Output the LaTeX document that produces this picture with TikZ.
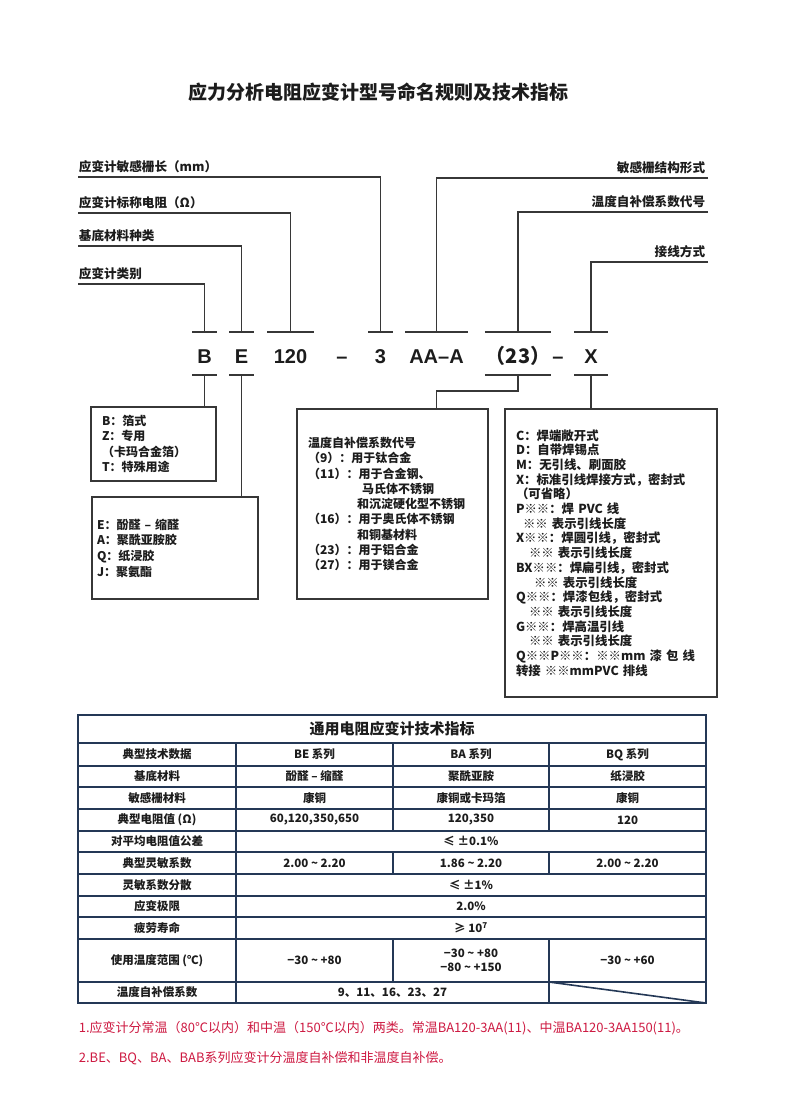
\documentclass[tikz,border=0pt]{standalone}
\usepackage{fontspec}
\setmainfont{Noto Sans CJK SC}
\newfontfamily\arialfont{Liberation Sans}
\usetikzlibrary{positioning}
\definecolor{linegray}{RGB}{55,55,55}
\definecolor{txt}{RGB}{28,28,28}
\definecolor{tabblue}{RGB}{36,56,86}
\definecolor{notered}{RGB}{205,25,65}

\begin{document}
\begin{tikzpicture}[x=1pt, y=-1pt, color=linegray, line width=1.8pt]
  \tikzstyle{lbl}=[inner sep=0pt, text=txt, font=\fontsize{12.6}{14}\selectfont\bfseries]
  \tikzstyle{code}=[inner sep=0pt, minimum height=41pt, text height=19pt, text depth=0pt, text=txt, font=\arialfont\fontsize{20}{22}\selectfont\bfseries]
  \tikzstyle{box}=[draw, rectangle, align=left, inner ysep=0pt, text=txt, font=\fontsize{12}{15.3}\selectfont\bfseries]
  \tikzstyle{tabline}=[draw=tabblue, line width=1.6pt]
  \tikzstyle{cell}=[inner sep=0pt, align=center, text=txt, font=\fontsize{11.5}{13.5}\selectfont\bfseries]
  \tikzstyle{note}=[inner sep=0pt, text=notered, font=\fontsize{13}{15}\selectfont]
  \useasboundingbox (0,0) rectangle (800,1101);

  \node[text=txt, font=\fontsize{19}{22}\selectfont\bfseries] (title) at (378,92) {应力分析电阻应变计型号命名规则及技术指标};

  % model code
  \node[code, minimum width=23pt] (cB) at (204.5,353.5) {B};
  \node[code, minimum width=23pt] (cE) at (241.5,353.5) {E};
  \node[code, minimum width=45pt] (cR) at (290.5,353.5) {120};
  \node[code] (cD1) at (342,353.5) {–};
  \node[code, minimum width=23pt] (c3) at (380.5,353.5) {3};
  \node[code, minimum width=61pt] (cAA) at (436.5,353.5) {AA–A};
  \node[code, minimum width=48pt, font=\fontsize{20}{22}\selectfont\bfseries] (c23) at (518,353.5) {（23）};
  \node[code] (cD2) at (558,353.5) {–};
  \node[code, minimum width=32pt] (cX) at (591,353.5) {X};
  \foreach \c in {cB,cE,cR,c3,cAA,c23,cX}
    \draw (\c.north west) -- (\c.north east);
  \foreach \c in {cB,cE,c23,cX}
    \draw (\c.south west) -- (\c.south east);

  % labels above
  \node[lbl, anchor=south west] (lenL) at (78,174) {应变计敏感栅长（mm）};
  \node[lbl, anchor=south west] (resL) at (78,210) {应变计标称电阻（Ω）};
  \node[lbl, anchor=south west] (subL) at (78,243) {基底材料种类};
  \node[lbl, anchor=south west] (typL) at (78,281) {应变计类别};
  \node[lbl, anchor=south east] (grdL) at (706,175) {敏感栅结构形式};
  \node[lbl, anchor=south east] (tcpL) at (706,209) {温度自补偿系数代号};
  \node[lbl, anchor=south east] (wirL) at (706,259) {接线方式};

  \draw ([yshift=-3pt]lenL.south west) -| (c3.north);
  \draw ([yshift=-3pt]resL.south west) -| (cR.north);
  \draw ([yshift=-3pt]subL.south west) -| (cE.north);
  \draw ([yshift=-3pt]typL.south west) -| (cB.north);
  \draw ([yshift=-3pt,xshift=2pt]grdL.south east) -| (cAA.north);
  \draw ([yshift=-3pt,xshift=2pt]tcpL.south east) -| (c23.north);
  \draw ([yshift=-3pt,xshift=2pt]wirL.south east) -| (cX.north);

  % explanation boxes
  \node[box, inner xsep=11pt, text width=103pt, minimum height=74pt] (bxB) at (153.5,444)
    {B：箔式\\Z：专用\\（卡玛合金箔）\\T：特殊用途};
  \node[box, inner xsep=5pt, text width=156pt, minimum height=102pt, font=\fontsize{12}{15.7}\selectfont\bfseries] (bxE) at (175,548)
    {E：酚醛 – 缩醛\\A：聚酰亚胺胶\\Q：纸浸胶\\J：聚氨酯};
  \node[box, inner xsep=11pt, text width=169pt, minimum height=190pt, font=\fontsize{12}{15.25}\selectfont\bfseries] (bxT) at (392.5,504)
    {温度自补偿系数代号\\（9）：用于钛合金\\（11）：用于合金钢、\\\hspace*{54pt}马氏体不锈钢\\\hspace*{49pt}和沉淀硬化型不锈钢\\（16）：用于奥氏体不锈钢\\\hspace*{49pt}和铜基材料\\（23）：用于铝合金\\（27）：用于镁合金};
  \node[box, inner xsep=11pt, text width=190pt, minimum height=288pt, font=\fontsize{12.4}{14.7}\selectfont\bfseries] (bxW) at (611,553)
    {C：焊端敞开式\\D：自带焊锡点\\M：无引线、刷面胶\\X：标准引线焊接方式，密封式\\（可省略）\\P※※：焊 PVC 线\\\hspace*{7pt}※※ 表示引线长度\\X※※：焊圆引线，密封式\\\hspace*{13pt}※※ 表示引线长度\\BX※※：焊扁引线，密封式\\\hspace*{18pt}※※ 表示引线长度\\Q※※：焊漆包线，密封式\\\hspace*{13pt}※※ 表示引线长度\\G※※：焊高温引线\\\hspace*{13pt}※※ 表示引线长度\\Q※※P※※：※※mm 漆 包 线\\转接 ※※mmPVC 排线};

  \draw (cB.south) -- (cB.south |- bxB.north);
  \draw (cE.south) -- (cE.south |- bxE.north);
  \draw (c23.south) -- ++(0,16) -| (cAA |- bxT.north);
  \draw (cX.south) -- (cX.south |- bxW.north);

  % table
  \draw[tabline] (78,715) rectangle (706,1003);
  \foreach \y in {743,766,787,809,831,852,874,896,917,939,982}
    \draw[tabline] (78,\y) -- (706,\y);
  \draw[tabline] (236,743) -- (236,1003);
  \foreach \a/\b in {743/831,852/874,939/982}
    \draw[tabline] (393,\a) -- (393,\b) (549,\a) -- (549,\b);
  \draw[tabline] (549,982) -- (549,1003);
  \draw[tabline] (549,982) -- (706,1003);

  \node[cell, font=\fontsize{15}{17}\selectfont\bfseries] (tabT) at (392,729) {通用电阻应变计技术指标};
  \foreach \y/\a/\b/\c/\d [count=\i] in {
      754.5/典型技术数据/BE 系列/BA 系列/BQ 系列,
      776.5/基底材料/酚醛 – 缩醛/聚酰亚胺/纸浸胶,
      798/敏感栅材料/康铜/康铜或卡玛箔/康铜,
      820/典型电阻值 (Ω)/{60,120,350,650}/{120,350}/120,
      863/典型灵敏系数/2.00 \textasciitilde{} 2.20/1.86 \textasciitilde{} 2.20/2.00 \textasciitilde{} 2.20,
      960.5/使用温度范围 (℃)/−30 \textasciitilde{} +80/{−30 \textasciitilde{} +80\\−80 \textasciitilde{} +150}/−30 \textasciitilde{} +60} {
    \node[cell] (r\i-1) at (157,\y) {\a};
    \node[cell] (r\i-2) at (314.5,\y) {\b};
    \node[cell] (r\i-3) at (471,\y) {\c};
    \node[cell] (r\i-4) at (627.5,\y) {\d};
  }
  \foreach \y/\a/\b [count=\i] in {
      841.5/对平均电阻值公差/≤ ±0.1\%,
      885/灵敏系数分散/≤ ±1\%,
      906.5/应变极限/2.0\%,
      928/疲劳寿命/≥ 10\textsuperscript{7}} {
    \node[cell] (s\i-1) at (157,\y) {\a};
    \node[cell] (s\i-2) at (471,\y) {\b};
  }
  \node[cell] (tcL) at (157,992.5) {温度自补偿系数};
  \node[cell] (tcV) at (392.5,992.5) {9、11、16、23、27};

  % notes
  \node[note, anchor=west] (n1) at (78,1028) {1.应变计分常温（80℃以内）和中温（150℃以内）两类。常温BA120-3AA(11)、中温BA120-3AA150(11)。};
  \node[note, anchor=west] (n2) at (78,1058) {2.BE、BQ、BA、BAB系列应变计分温度自补偿和非温度自补偿。};
\end{tikzpicture}
\end{document}
